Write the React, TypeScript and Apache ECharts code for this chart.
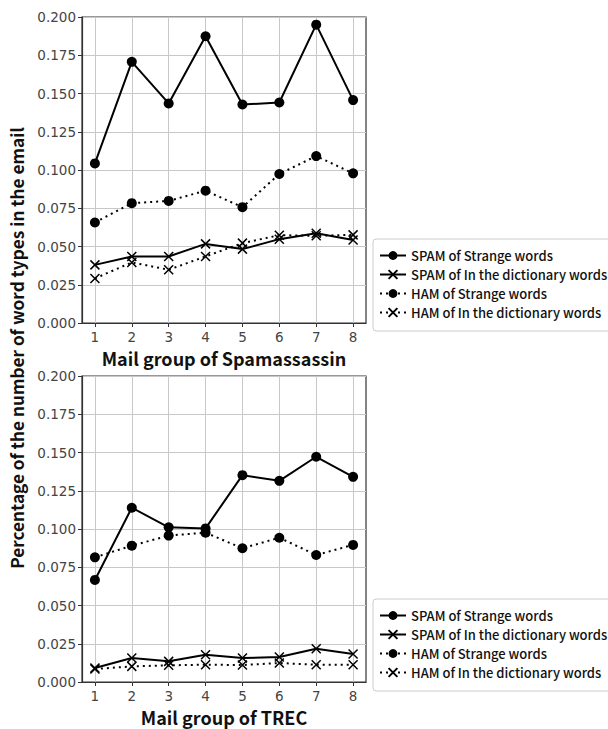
import React, { useEffect, useRef } from "react";
import * as echarts from "echarts";

const groups = [1, 2, 3, 4, 5, 6, 7, 8];
const yTicks = [0, 0.025, 0.05, 0.075, 0.1, 0.125, 0.15, 0.175, 0.2];
const seriesNames = [
  "SPAM of Strange words",
  "SPAM of In the dictionary words",
  "HAM of Strange words",
  "HAM of In the dictionary words",
];

// Spamassassin
const saSpamStrange = [0.1043, 0.1707, 0.1435, 0.1874, 0.1428, 0.1441, 0.195, 0.1457];
const saSpamDict = [0.038, 0.0435, 0.0435, 0.0517, 0.0483, 0.0548, 0.0587, 0.0543];
const saHamStrange = [0.0657, 0.0783, 0.0798, 0.0865, 0.0757, 0.0974, 0.1091, 0.0978];
const saHamDict = [0.0291, 0.0396, 0.0348, 0.0435, 0.0522, 0.0574, 0.057, 0.0576];

// TREC
const trSpamStrange = [0.0667, 0.1139, 0.1011, 0.1004, 0.1352, 0.1315, 0.1472, 0.1341];
const trSpamDict = [0.0091, 0.0157, 0.0135, 0.0178, 0.0157, 0.0163, 0.0217, 0.0183];
const trHamStrange = [0.0815, 0.0891, 0.0957, 0.0976, 0.0874, 0.0943, 0.083, 0.0896];
const trHamDict = [0.0085, 0.0102, 0.0109, 0.0113, 0.0111, 0.0124, 0.0113, 0.0113];

const xTitles = ["Mail group of Spamassassin", "Mail group of TREC"];
const yTitle = "Percentage of the number of word types in the email";

const FONT = "'Noto Sans CJK JP', 'Noto Sans', sans-serif";
const TICKFONT = "'DejaVu Sans', sans-serif";
const CROSS = "path://M0,0L10,10M0,10L10,0";

export default function App() {
  const ref = useRef<HTMLDivElement>(null);
  useEffect(() => {
    document.body.style.margin = "0";
    const chart = echarts.init(ref.current!, null, { renderer: "svg" });
    const grids = [
      { left: 82, top: 17, width: 284, height: 306 },
      { left: 82, top: 376, width: 284, height: 306 },
    ];
    const mkX = (i: number) => ({
      type: "value",
      gridIndex: i,
      min: 0.65,
      max: 8.35,
      name: xTitles[i],
      nameLocation: "middle",
      nameGap: 26,
      nameTextStyle: { fontFamily: FONT, fontSize: 18, fontWeight: "bold", color: "#111" },
      axisLine: { show: true, lineStyle: { color: "#333", width: 1.2 } },
      axisTick: { show: true, length: 4, customValues: groups, lineStyle: { color: "#333" } },
      axisLabel: { customValues: groups, fontFamily: TICKFONT, fontSize: 13.5, color: "#444", margin: 7 },
      splitLine: { show: true, customValues: groups, lineStyle: { color: "#c8c8c8", width: 1 } },
    });
    const mkY = (i: number) => ({
      type: "value",
      gridIndex: i,
      min: 0,
      max: 0.2,
      interval: 0.025,
      axisLine: { show: true, lineStyle: { color: "#333", width: 1.2 } },
      axisTick: { show: true, length: 4, lineStyle: { color: "#333" } },
      axisLabel: {
        fontFamily: TICKFONT,
        fontSize: 13.5,
        color: "#444",
        margin: 6,
        formatter: (v: number) => v.toFixed(3),
      },
      splitLine: { show: true, lineStyle: { color: "#c8c8c8", width: 1 } },
    });
    const pair = (arr: number[]) => groups.map((g, k) => [g, arr[k]]);
    const mkSeries = (i: number, data: number[][]) => {
      const styles = [
        { sym: "circle", size: 10, dash: "solid" },
        { sym: CROSS, size: 9, dash: "solid" },
        { sym: "circle", size: 10, dash: [2, 4] },
        { sym: CROSS, size: 9, dash: [2, 4] },
      ];
      return data.map((d, k) => {
        const s = styles[k];
        const isCross = s.sym === CROSS;
        return {
          type: "line",
          name: seriesNames[k],
          xAxisIndex: i,
          yAxisIndex: i,
          data: pair(d as any),
          symbol: s.sym,
          symbolSize: s.size,
          showSymbol: true,
          lineStyle: { color: "#000", width: 2, type: s.dash },
          itemStyle: isCross
            ? { color: "rgba(0,0,0,0)", borderColor: "#000", borderWidth: 1.5 }
            : { color: "#000", borderColor: "#000", borderWidth: 0 },
          z: 3,
        };
      });
    };
    const legendCommon = {
      orient: "vertical",
      left: 373,
      itemWidth: 26,
      itemHeight: 11,
      itemGap: 6,
      padding: [10, 10, 12, 6],
      borderColor: "#ccc",
      borderWidth: 1,
      borderRadius: 3,
      backgroundColor: "#fff",
      data: seriesNames,
      textStyle: { fontFamily: FONT, fontSize: 13, color: "#111", fontWeight: 500 },
      selectedMode: false,
    };
    chart.setOption({
      animation: false,
      backgroundColor: "#fff",
      grid: grids.map((g) => ({
        ...g,
        show: true,
        borderColor: "#333",
        borderWidth: 1.2,
        backgroundColor: "transparent",
      })),
      xAxis: [mkX(0), mkX(1)],
      yAxis: [mkY(0), mkY(1)],
      legend: [
        { ...legendCommon, top: 239 },
        { ...legendCommon, top: 599 },
      ],
      graphic: [
        {
          type: "text",
          x: 16,
          y: 348,
          rotation: Math.PI / 2,
          style: {
            text: yTitle,
            fontFamily: FONT,
            fontSize: 17.2,
            fontWeight: "bold",
            fill: "#111",
            align: "center",
            verticalAlign: "middle",
          },
        },
      ],
      series: [
        ...mkSeries(0, [saSpamStrange, saSpamDict, saHamStrange, saHamDict] as any),
        ...mkSeries(1, [trSpamStrange, trSpamDict, trHamStrange, trHamDict] as any),
      ],
    });
    return () => chart.dispose();
  }, []);
  return <div ref={ref} style={{ width: 608, height: 729 }} />;
}
